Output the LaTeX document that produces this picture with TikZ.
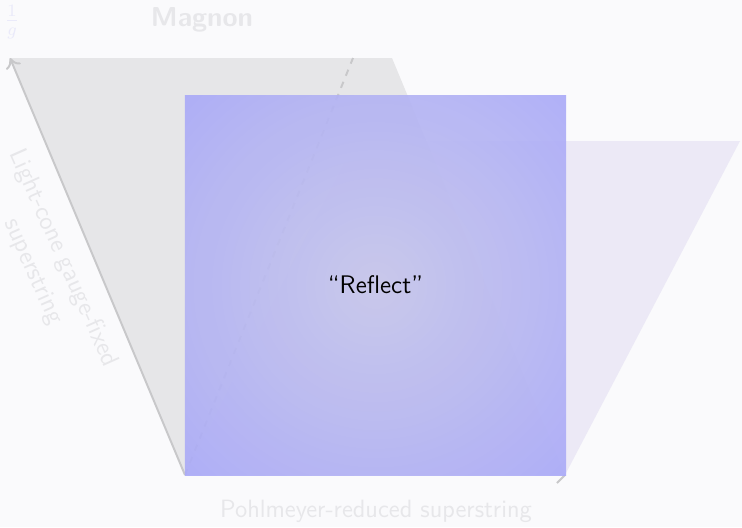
\documentclass[tikz,border=0pt]{standalone}
\usetikzlibrary{
  arrows.meta
}
\definecolor{canvas}{HTML}{FAFAFC}
\definecolor{gaugefill}{HTML}{E6E6E8}
\definecolor{reducedfill}{HTML}{E3DFF2}
\definecolor{axisgray}{HTML}{C8C8CA}
\definecolor{reflectinner}{HTML}{C6C6EA}
\definecolor{reflectouter}{HTML}{9A9AFF}
\definecolor{fadetext}{HTML}{E7E7EA}
\definecolor{fadeblue}{HTML}{EAEAFA}
\pgfdeclareradialshading{reflectglow}{\pgfpoint{0bp}{0bp}}{
  color(0bp)=(reflectinner); color(54bp)=(reflectouter); color(72bp)=(reflectouter)
}
\tikzset{
  font=\sffamily,
  gauge region/.style={
    fill=gaugefill
  },
  reduced region/.style={
    fill=reducedfill,
    fill opacity=0.6
  },
  axis path/.style={-{To[length=1.6mm,width=2.6mm]}, draw=axisgray, line width=0.9pt},
  axis stub/.style={draw=axisgray, line width=0.9pt},
  cone path/.style={draw=axisgray, dashed, line width=0.9pt},
  reflect box/.style={
    shade,
    shading=reflectglow,
    fill opacity=0.9,
    text opacity=1,
    text=black,
    minimum width=175.3pt,
    minimum height=174.8pt,
    inner sep=0pt
  },
  axis label/.style={text=fadeblue, inner sep=0pt},
  title label/.style={font=\sffamily\bfseries\fontsize{12.6}{15}\selectfont, text=fadetext},
  region label/.style={text=fadetext, align=center}
}

\begin{document}
\begin{tikzpicture}[x=0.46pt,y=-0.46pt,font=\sffamily\fontsize{11.7}{15}\selectfont]
  % Canvas
  \fill[canvas] (0,0) rectangle (742,527);
  \useasboundingbox (0,0) rectangle (742,527);

  % Corner points
  \coordinate (origin) at (185,475);
  \coordinate (corner) at (565,475);
  \coordinate (gaugetl) at (10,58);
  \coordinate (gaugetr) at (392,58);
  \coordinate (reducedtl) at (355,141);
  \coordinate (reducedtr) at (740,141);
  \coordinate (conetop) at (353,58);

  % Regions
  \fill[gauge region] (origin) -- (gaugetl) -- (gaugetr) -- (corner) -- cycle;
  \fill[reduced region] (origin) -- (reducedtl) -- (reducedtr) -- (corner) -- cycle;

  % Axis and light-cone line
  \draw[axis path] (origin) -- (gaugetl);
  \draw[cone path] (origin) -- (conetop);
  \draw[axis stub] (corner) -- ++(-8,8);

  % Reflect box
  \node[reflect box] (reflect) at (375.5,285) {“Reflect”};

  % Labels
  \node[axis label] (gaxis) at (12,22) {$\frac{1}{g}$};
  \node[title label] (magnon) at (202,20) {Magnon};
  \node[region label, rotate=-66] (lightcone) at (48,265) {Light-cone gauge-fixed\\superstring};
  \node[region label, font=\sffamily\fontsize{11.5}{14}\selectfont] (pohlmeyer) at (376,511) {Pohlmeyer-reduced superstring};
\end{tikzpicture}
\end{document}
